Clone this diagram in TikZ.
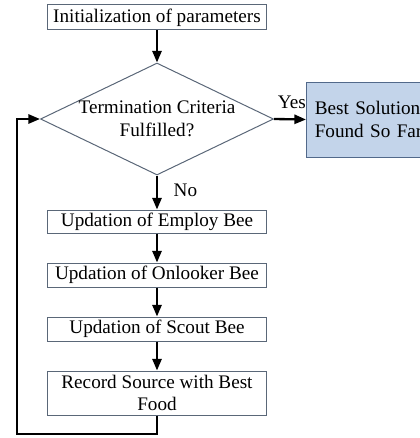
\documentclass[tikz,border=0pt]{standalone}
\usepackage{fontspec}
\setmainfont{Liberation Serif}
\usetikzlibrary{shapes.geometric,arrows.meta}

\definecolor{boxline}{HTML}{5A6778}
\definecolor{bestfill}{HTML}{C3D4EA}
\definecolor{bestline}{HTML}{52698A}

\begin{document}
\begin{tikzpicture}[x = 0.6pt, y = -0.6pt,
		every node/.style = {font = \fontsize{11.5}{13.5}\selectfont},
		process/.style = {draw = boxline, line width = 0.6pt, minimum width = 131.4pt, inner sep = 0pt, align = center},
		decision/.style = {diamond, draw = boxline, line width = 0.6pt, minimum width = 139.8pt, minimum height = 67.2pt, inner sep = 0pt},
		result/.style = {draw = bestline, fill = bestfill, line width = 0.6pt, minimum height = 45pt, text width = 70pt, inner xsep = 5pt, align = left},
		flow/.style = {line width = 1.4pt, -{Triangle[length = 7pt, width = 5.5pt]}}]
				%	page size
				\useasboundingbox (0, 0) rectangle (420, 438);
				
				%	boxes
				\node[process, minimum height = 15pt] (init) at (157, 17.5) {Initialization of parameters};
				\node[decision] (dec) at (157, 119) {};
				\node[align = center] (dectext) at (dec) {Termination Criteria\\Fulfilled?};
				\node[result, anchor = west] (best) at (306, 119.5) {Best Solution\\Found So Far};
				\node[process, minimum height = 13.8pt] (emp) at (157, 221.5) {Updation of Employ Bee};
				\node[process, minimum height = 14.4pt] (onl) at (157, 275) {Updation of Onlooker Bee};
				\node[process, minimum height = 14.4pt] (scout) at (157, 329) {Updation of Scout Bee};
				\node[process, minimum height = 26.4pt] (rec) at (157, 393) {Record Source with Best\\Food};
				
				%	corners of the loop
				\coordinate (loopA) at (157, 434);
				\coordinate (loopB) at (17, 434);
				\coordinate (loopC) at (17, 119);
				
				%	arrows
				\draw[flow] (init) -- (dec.north);
				\draw[flow] (dec.east) -- node[above, pos = 0.56, yshift = 2.5pt]{Yes} (best.west);
				\draw[flow] (dec.south) -- node[right, pos = 0.45, xshift = 6pt]{No} (emp);
				\draw[flow] (emp) -- (onl);
				\draw[flow] (onl) -- (scout);
				\draw[flow] (scout) -- (rec);
				\draw[flow] (rec) -- (loopA) -- (loopB) -- (loopC) -- (dec.west);
\end{tikzpicture}
\end{document}
